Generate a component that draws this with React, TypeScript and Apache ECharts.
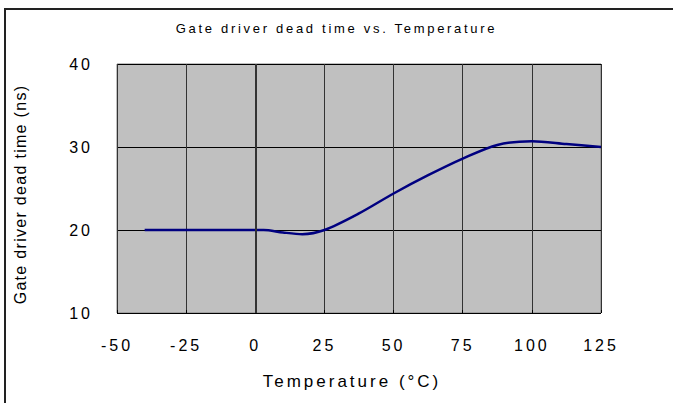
import React, { useEffect, useRef } from "react";
import * as echarts from "echarts";

const temps = [-40, 3, 10, 17, 25, 37.5, 50, 62.5, 75, 87.5, 100, 112.5, 125];
const deadTime = [20, 20, 19.7, 19.5, 20, 22.0, 24.4, 26.6, 28.6, 30.25, 30.7, 30.35, 30.0];
const xTicks = [-50, -25, 0, 25, 50, 75, 100, 125];
const yTicks = [10, 20, 30, 40];
const titleText = "Gate driver dead time vs. Temperature";
const xName = "Temperature (°C)";
const yName = "Gate driver dead time (ns)";

export default function App() {
  const ref = useRef<HTMLDivElement>(null);
  useEffect(() => {
    if (!ref.current) return;
    const chart = echarts.init(ref.current, null, { renderer: "svg" });
    const wide = "Liberation Sans";
    chart.setOption({
      animation: false,
      backgroundColor: "#ffffff",
      title: {
        text: titleText,
        left: "center",
        top: 22,
        padding: 0,
        textStyle: { fontFamily: "Helvetica", fontSize: 13, fontWeight: "normal", color: "#000" },
      },
      graphic: [
        {
          type: "rect",
          shape: { x: 5, y: 9, width: 800, height: 500 },
          style: { fill: "none", stroke: "#222", lineWidth: 2 },
          silent: true,
        },
      ],
      grid: {
        left: 117,
        right: 72,
        top: 64,
        bottom: 90,
        show: true,
        backgroundColor: "#c0c0c0",
        borderColor: "#808080",
        borderWidth: 1,
      },
      xAxis: {
        type: "value",
        min: xTicks[0],
        max: xTicks[xTicks.length - 1],
        interval: 25,
        name: xName,
        nameLocation: "middle",
        nameGap: 60,
        nameTextStyle: { fontFamily: wide, fontSize: 17, color: "#000", padding: [0, 14, 0, 0] },
        axisLine: { show: false },
        axisTick: { show: true, inside: true, length: 3, lineStyle: { color: "#000" } },
        axisLabel: { fontFamily: wide, fontSize: 16, color: "#000", margin: 24 },
        splitLine: { show: true, lineStyle: { color: "#333", width: 1 } },
      },
      yAxis: {
        type: "value",
        min: yTicks[0],
        max: yTicks[yTicks.length - 1],
        interval: 10,
        name: yName,
        nameLocation: "middle",
        nameRotate: 90,
        nameGap: 89,
        nameTextStyle: { fontFamily: "Arial", fontSize: 16, color: "#000", padding: [0, 12, 0, 0] },
        axisLine: { show: false },
        axisTick: { show: false },
        axisLabel: { fontFamily: wide, fontSize: 16, color: "#000", margin: 24 },
        splitLine: { show: true, lineStyle: { color: "#000", width: 1 } },
      },
      series: [
        {
          type: "line",
          data: temps.map((t, i) => [t, deadTime[i]]),
          smooth: 0.3,
          showSymbol: false,
          lineStyle: { color: "#000080", width: 2.5 },
          markLine: {
            silent: true,
            symbol: "none",
            label: { show: false },
            lineStyle: { color: "#333", width: 2, type: "solid" },
            data: [{ xAxis: 0 }],
          },
        },
      ],
    });
    return () => chart.dispose();
  }, []);
  return (
    <div>
      <style>{`
        body { margin: 0; }
        #root svg text[style*="Liberation"] { letter-spacing: 3px; }
        #root svg text[style*="Helvetica"] { letter-spacing: 2.7px; }
        #root svg text[style*="Arial"] { letter-spacing: 1.3px; }
      `}</style>
      <div ref={ref} style={{ width: 673, height: 403 }} />
    </div>
  );
}
